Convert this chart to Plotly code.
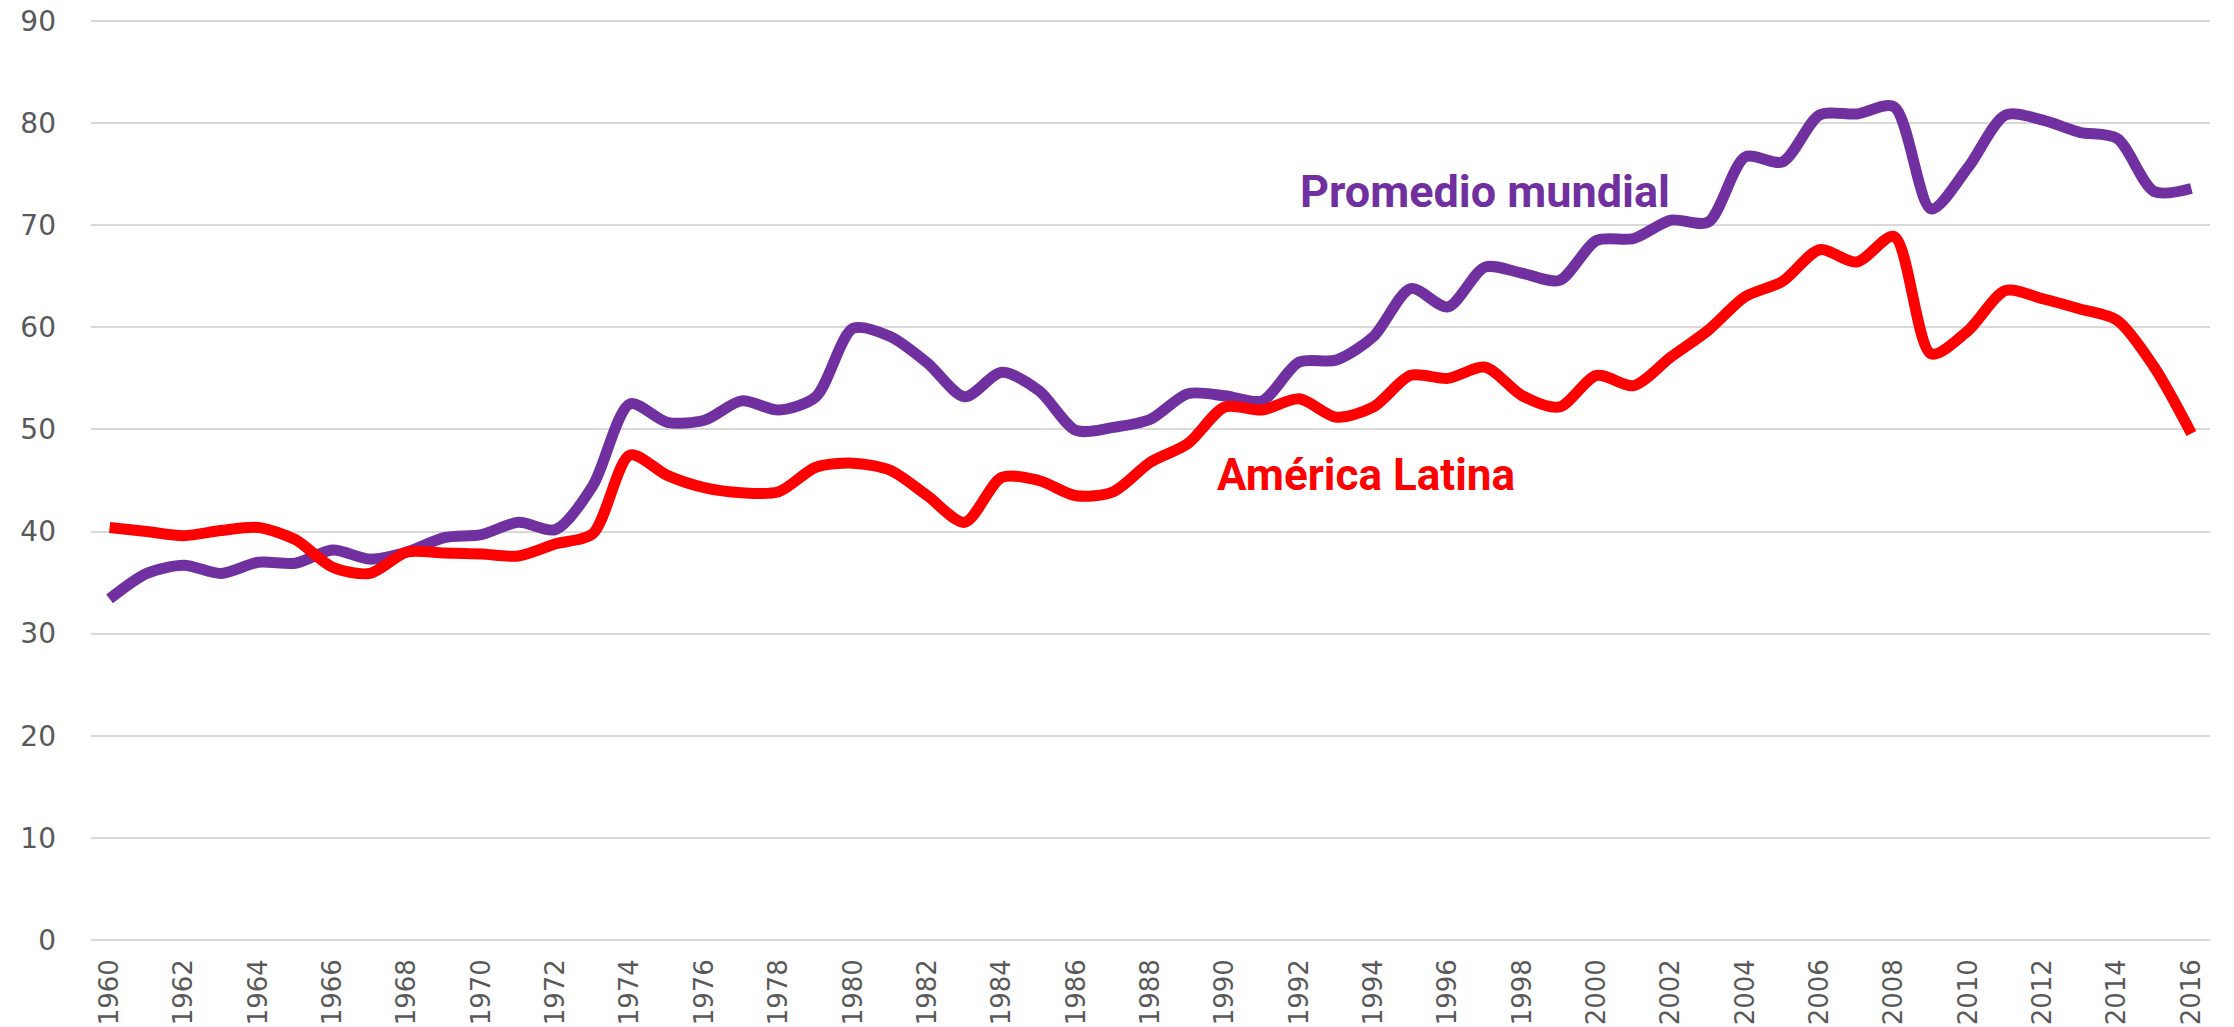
import plotly.graph_objects as go

years = list(range(1960, 2017))
mundial = [33.4, 35.9, 36.7, 35.9, 37.0, 36.9, 38.2, 37.3, 38.0, 39.4,
           39.7, 40.9, 40.2, 44.5, 52.5, 50.7, 50.9, 52.8, 51.9, 53.2,
           59.9, 59.1, 56.5, 53.2, 55.6, 53.8, 49.9, 50.2, 51.0, 53.5,
           53.3, 52.8, 56.6, 56.8, 59.1, 63.8, 62.0, 65.9, 65.3, 64.6,
           68.5, 68.7, 70.5, 70.3, 76.7, 76.2, 80.8, 80.9, 81.6, 71.6,
           75.7, 80.8, 80.3, 79.1, 78.5, 73.3, 73.6]
latina = [40.4, 40.0, 39.6, 40.1, 40.4, 39.2, 36.5, 35.9, 38.0, 37.9,
          37.8, 37.6, 38.8, 39.8, 47.5, 45.5, 44.3, 43.8, 43.9, 46.3,
          46.7, 46.0, 43.5, 40.9, 45.3, 45.0, 43.5, 43.9, 46.8, 48.6,
          52.2, 51.9, 53.0, 51.2, 52.2, 55.3, 55.0, 56.1, 53.3, 52.2,
          55.3, 54.3, 57.1, 59.7, 63.0, 64.5, 67.6, 66.4, 68.9, 57.4,
          59.7, 63.6, 62.8, 61.8, 60.7, 56.1, 49.6]
y_ticks = [0, 10, 20, 30, 40, 50, 60, 70, 80, 90]
x_ticks = list(range(1960, 2017, 2))

PURPLE = "#7030A0"
RED = "#FF0000"

fig = go.Figure()
fig.add_trace(go.Scatter(x=years, y=mundial, mode="lines", name="Promedio mundial",
                         line=dict(color=PURPLE, width=11, shape="spline", smoothing=0.8)))
fig.add_trace(go.Scatter(x=years, y=latina, mode="lines", name="América Latina",
                         line=dict(color=RED, width=11, shape="spline", smoothing=0.8)))

fig.add_annotation(x=1997.0, y=73.3, text="<b>Promedio mundial</b>", showarrow=False,
                   font=dict(family="Liberation Sans Narrow, Roboto, sans-serif", size=45, color=PURPLE))
fig.add_annotation(x=1993.8, y=45.5, text="<b>América Latina</b>", showarrow=False,
                   font=dict(family="Liberation Sans Narrow, Roboto, sans-serif", size=44, color=RED))

# page body has an 8px default margin, so the figure is offset by 8px
fig.update_layout(
    width=2226, height=1019,
    margin=dict(l=83, r=24, t=12, b=86),
    paper_bgcolor="white", plot_bgcolor="white",
    showlegend=False,
    font=dict(family="DejaVu Sans, sans-serif", size=28, color="#595959"),
)
fig.update_xaxes(
    range=[1959.5, 2016.5], tickmode="array", tickvals=x_ticks,
    ticktext=[str(t) for t in x_ticks], tickangle=-90,
    showgrid=False, showline=False, zeroline=False, ticks="",
    automargin=False, ticklabelstandoff=12,
    tickfont=dict(family="DejaVu Sans, sans-serif", size=26, color="#595959"),
)
fig.update_yaxes(
    range=[-0.1, 90.1], tickmode="array", tickvals=y_ticks,
    ticktext=[str(t) for t in y_ticks],
    showgrid=True, gridcolor="#D9D9D9", gridwidth=2,
    zeroline=True, zerolinecolor="#D9D9D9", zerolinewidth=2,
    showline=False, ticks="", automargin=False, ticklabelstandoff=34,
    ticklabeloverflow="allow",
    tickfont=dict(family="DejaVu Sans, sans-serif", size=28, color="#595959"),
)

fig.write_html("out.html")
